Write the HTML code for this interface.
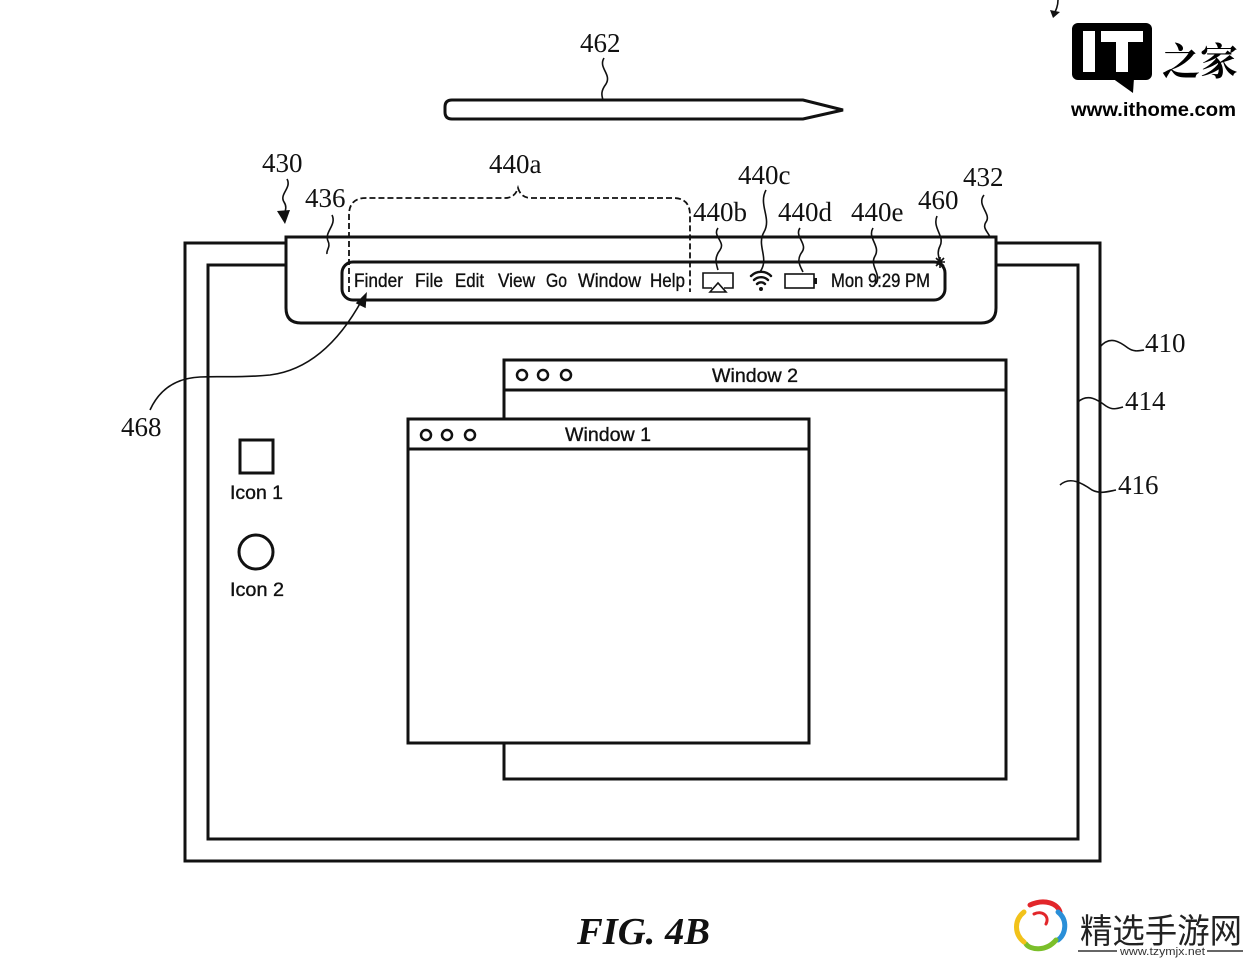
<!DOCTYPE html>
<html><head><meta charset="utf-8"><style>
html,body{margin:0;padding:0;background:#fff;}
svg{display:block;}
.l{fill:none;stroke:#111;stroke-width:3;}
.t{fill:none;stroke:#111;stroke-width:1.6;}
.num{font-family:"Liberation Serif",serif;font-size:27px;fill:#111;}
.ui{font-family:"Liberation Sans",sans-serif;font-size:19px;fill:#111;stroke:#111;stroke-width:0.35;}
</style></head><body>
<svg width="1256" height="964" viewBox="0 0 1256 964" xmlns="http://www.w3.org/2000/svg">
<rect width="1256" height="964" fill="#fff"/>

<!-- pencil 462 -->
<path class="l" d="M452,100 L803,100 L843,110 L803,119 L452,119 Q445,119 445,112 L445,107 Q445,100 452,100 Z"/>
<text class="num" x="580" y="52">462</text>
<path class="t" d="M604,58 C598,68 612,74 606,84 C600,92 602,96 603,100"/>

<!-- outer frame 410 and inner 414 -->
<rect class="l" x="185" y="243" width="915" height="618"/>
<rect class="l" x="208" y="265" width="870" height="574"/>

<!-- menu container 432 -->
<path d="M286,237 L996,237 L996,308 Q996,323 981,323 L301,323 Q286,323 286,308 Z" fill="#fff" stroke="#111" stroke-width="3"/>
<!-- menu pill -->
<rect class="l" x="342" y="262" width="603" height="38" rx="11" ry="11"/>

<!-- 440a dashed bracket -->
<path d="M349,292 L349,215 Q349,198 366,198 L505,198 Q515,198 518,188 Q521,198 531,198 L673,198 Q690,198 690,215 L690,292" fill="none" stroke="#111" stroke-width="1.8" stroke-dasharray="6,3"/>
<text class="num" x="489" y="173">440a</text>

<!-- menu text -->
<text class="ui" x="354" y="287" textLength="49" lengthAdjust="spacingAndGlyphs">Finder</text>
<text class="ui" x="415" y="287" textLength="28" lengthAdjust="spacingAndGlyphs">File</text>
<text class="ui" x="455" y="287" textLength="29" lengthAdjust="spacingAndGlyphs">Edit</text>
<text class="ui" x="498" y="287" textLength="37" lengthAdjust="spacingAndGlyphs">View</text>
<text class="ui" x="546" y="287" textLength="21" lengthAdjust="spacingAndGlyphs">Go</text>
<text class="ui" x="578" y="287" textLength="63" lengthAdjust="spacingAndGlyphs">Window</text>
<text class="ui" x="650" y="287" textLength="35" lengthAdjust="spacingAndGlyphs">Help</text>

<!-- airplay icon -->
<path class="t" stroke-width="2" d="M712,288 L703,288 L703,273 L733,273 L733,288 L724,288"/>
<path class="t" stroke-width="2" d="M710,292 L718,283 L726,292 Z"/>
<!-- wifi -->
<g fill="none" stroke="#111" stroke-width="2.4" stroke-linecap="round">
<path d="M751,276 A14,14 0 0 1 771,276"/>
<path d="M754,280 A10,10 0 0 1 768,280"/>
<path d="M757,284 A5.5,5.5 0 0 1 765,284"/>
</g>
<circle cx="761" cy="289" r="2" fill="#111"/>
<!-- battery -->
<rect class="t" stroke-width="2" x="785" y="274" width="29" height="14"/>
<rect x="814" y="278" width="3" height="6" fill="#111"/>
<text class="ui" x="831" y="287" textLength="99" lengthAdjust="spacingAndGlyphs">Mon 9:29 PM</text>

<!-- labels for menu items -->
<text class="num" x="693" y="221">440b</text>
<path class="t" d="M718,228 C712,236 726,242 720,250 C714,258 716,263 718,270"/>
<text class="num" x="738" y="184">440c</text>
<path class="t" d="M766,190 C758,205 772,218 764,232 C756,246 770,258 760,272"/>
<text class="num" x="778" y="221">440d</text>
<path class="t" d="M800,228 C794,236 808,244 802,252 C796,260 800,266 803,272"/>
<text class="num" x="851" y="221">440e</text>
<path class="t" d="M873,228 C867,238 881,246 875,256 C869,266 882,274 876,284"/>
<text class="num" x="918" y="209">460</text>
<path class="t" d="M937,216 C932,228 945,236 940,246 C936,254 940,258 940,264"/>
<path d="M935,262 L945,262 M940,257 L940,268 M936,258 L944,266 M944,258 L936,266" stroke="#111" stroke-width="1.6"/>
<text class="num" x="963" y="186">432</text>
<path class="t" d="M984,195 C976,205 992,214 986,222 C982,228 988,232 990,237"/>

<!-- 430 -->
<text class="num" x="262" y="172">430</text>
<path class="t" d="M287,179 C292,188 279,194 284,202 C288,208 284,212 284,218"/>
<path d="M277,211 L285,224 L290,210 Z" fill="#111"/>
<!-- 436 -->
<text class="num" x="305" y="207">436</text>
<path class="t" d="M332,215 C337,225 324,232 328,241 C331,247 326,250 327,254"/>

<!-- 468 -->
<text class="num" x="121" y="436">468</text>
<path class="t" d="M150,410 C160,388 178,378 200,377 C220,376 240,378 270,375 C310,370 340,340 362,300"/>
<path d="M357,303 L366,294 L365,307 Z" fill="#111" stroke="#111" stroke-width="1.5"/>

<!-- Window 2 -->
<rect class="l" x="504" y="360" width="502" height="419" fill="#fff"/>
<line class="l" x1="504" y1="390" x2="1006" y2="390"/>
<circle cx="522" cy="375" r="5" fill="none" stroke="#111" stroke-width="2.5"/>
<circle cx="543" cy="375" r="5" fill="none" stroke="#111" stroke-width="2.5"/>
<circle cx="566" cy="375" r="5" fill="none" stroke="#111" stroke-width="2.5"/>
<text class="ui" x="712" y="382" textLength="86" lengthAdjust="spacingAndGlyphs">Window 2</text>

<!-- Window 1 -->
<rect x="408" y="419" width="401" height="324" fill="#fff" stroke="#111" stroke-width="3"/>
<line class="l" x1="408" y1="449" x2="809" y2="449"/>
<circle cx="426" cy="435" r="5" fill="none" stroke="#111" stroke-width="2.5"/>
<circle cx="447" cy="435" r="5" fill="none" stroke="#111" stroke-width="2.5"/>
<circle cx="470" cy="435" r="5" fill="none" stroke="#111" stroke-width="2.5"/>
<text class="ui" x="565" y="441" textLength="86" lengthAdjust="spacingAndGlyphs">Window 1</text>

<!-- Icons -->
<rect class="l" x="240" y="440" width="33" height="33"/>
<text class="ui" x="230" y="499" textLength="53" lengthAdjust="spacingAndGlyphs">Icon 1</text>
<circle class="l" cx="256" cy="552" r="17"/>
<text class="ui" x="230" y="596" textLength="54" lengthAdjust="spacingAndGlyphs">Icon 2</text>

<!-- 410 414 416 -->
<text class="num" x="1145" y="352">410</text>
<path class="t" d="M1100,347 C1110,335 1120,342 1128,348 C1134,352 1138,351 1144,350"/>
<text class="num" x="1125" y="410">414</text>
<path class="t" d="M1078,402 C1088,393 1098,400 1106,406 C1112,410 1116,409 1123,407"/>
<text class="num" x="1118" y="494">416</text>
<path class="t" d="M1060,485 C1070,476 1082,483 1092,490 C1100,494 1106,492 1116,490"/>

<!-- FIG -->
<text x="577" y="944" font-family="Liberation Serif,serif" font-size="38" font-weight="bold" font-style="italic" fill="#111" textLength="133" lengthAdjust="spacingAndGlyphs">FIG. 4B</text>

<!-- ithome watermark -->
<path d="M1058,0 C1058,6 1056,10 1054,14" class="t"/>
<path d="M1050,10 L1053,18 L1060,12 Z" fill="#111"/>
<rect x="1072" y="23" width="80" height="57" rx="6" fill="#000"/>
<path d="M1112,78 L1134,78 L1133,93 Z" fill="#000"/>
<rect x="1083" y="31" width="12" height="41" fill="#fff"/>
<rect x="1101" y="31" width="42" height="11" fill="#fff"/>
<rect x="1116" y="31" width="12" height="41" fill="#fff"/>
<text x="1162" y="75" font-family="'Noto Serif CJK SC','WenQuanYi Zen Hei',serif" font-size="38" font-weight="bold" fill="#000">之家</text>
<text x="1071" y="116" font-family="Liberation Sans,sans-serif" font-size="19" font-weight="bold" fill="#000" textLength="165" lengthAdjust="spacingAndGlyphs">www.ithome.com</text>

<!-- tzymjx watermark -->
<g fill="none" stroke-width="5" stroke-linecap="round">
<path d="M1030,905 C1045,898 1058,904 1060,912" stroke="#e2262a"/>
<path d="M1058,912 C1068,920 1066,934 1058,940" stroke="#2a8fd8"/>
<path d="M1056,940 C1046,952 1030,950 1026,944" stroke="#7bbf2a"/>
<path d="M1024,942 C1014,934 1014,920 1024,912" stroke="#f2c21a"/>
<path d="M1034,914 C1042,910 1050,916 1046,924" stroke="#e2262a" stroke-width="3"/>
</g>
<text x="1080" y="943" font-family="'Noto Sans CJK SC','WenQuanYi Zen Hei',sans-serif" font-size="34" fill="#222" textLength="162" lengthAdjust="spacingAndGlyphs">精选手游网</text>
<line x1="1078" y1="951" x2="1117" y2="951" stroke="#333" stroke-width="1.5"/>
<line x1="1207" y1="951" x2="1243" y2="951" stroke="#333" stroke-width="1.5"/>
<text x="1120" y="955" font-family="Liberation Sans,sans-serif" font-size="11" fill="#333" textLength="85" lengthAdjust="spacingAndGlyphs">www.tzymjx.net</text>
</svg>
</body></html>
